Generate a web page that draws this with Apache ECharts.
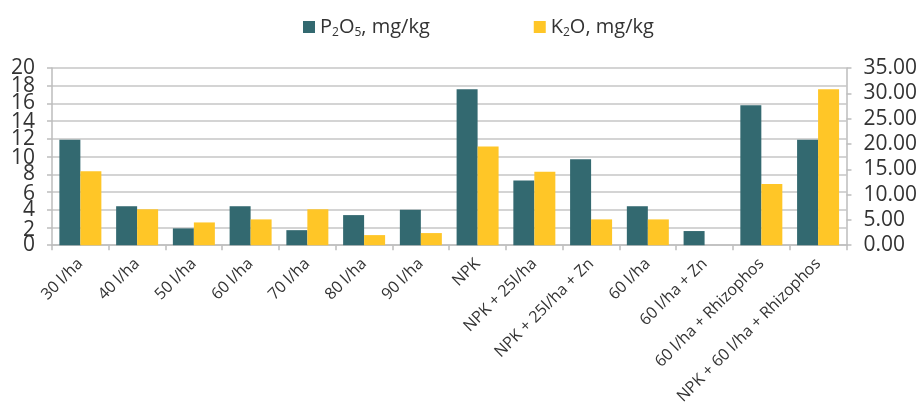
<!DOCTYPE html>
<html><head><meta charset="utf-8">
<script src="https://cdn.jsdelivr.net/npm/echarts@6/dist/echarts.min.js"></script>
<style>html,body{margin:0;padding:0;background:#fff}#c{width:920px;height:407px}</style>
</head><body><div id="c"></div>
<script>
const categories = ['30 l/ha','40 l/ha','50 l/ha','60 l/ha','70 l/ha','80 l/ha','90 l/ha','NPK','NPK + 25l/ha','NPK + 25l/ha + Zn','60 l/ha','60 l/ha + Zn','60 l/ha + Rhizophos','NPK + 60 l/ha + Rhizophos'];
const p2o5 = [11.9, 4.4, 1.9, 4.4, 1.7, 3.4, 4.0, 17.6, 7.3, 9.7, 4.4, 1.6, 15.8, 11.9];
const k2o = [14.6, 7.1, 4.5, 5.1, 7.1, 2.0, 2.4, 19.5, 14.5, 5.1, 5.1, 0, 12.1, 30.8];
const leftTicks = {min: 0, max: 20, interval: 2};
const rightTicks = {min: 0, max: 35, interval: 5};

const FONT = '"Open Sans", "Noto Sans", sans-serif';
const TXT = '#333333';
const GRID = {left: 52, right: 72, top: 68, bottom: 159};
const plotH = 407 - GRID.top - GRID.bottom;
const pxPerStep = plotH / ((leftTicks.max - leftTicks.min) / leftTicks.interval);
const chart = echarts.init(document.getElementById('c'));
const rich = {
  a: {fontSize: 20, fontFamily: FONT, color: TXT, lineHeight: 24},
  s: {fontSize: 12, fontFamily: FONT, color: TXT, padding: [12, 0, 0, 0], lineHeight: 24}
};
const labelStyle = {fontSize: 21, color: TXT, fontFamily: FONT, margin: 17};
chart.setOption({
  animation: false,
  textStyle: {fontFamily: FONT},
  legend: {
    top: 10, left: 298, itemWidth: 12, itemHeight: 12, itemGap: 104, icon: 'rect',
    data: ['P2O5', 'K2O'],
    formatter: function (n) {
      return n === 'P2O5' ? '{a|P}{s|2}{a|O}{s|5}{a|, mg/kg}' : '{a|K}{s|2}{a|O, mg/kg}';
    },
    textStyle: {rich: rich}
  },
  grid: [GRID, {left: GRID.left, right: GRID.right, top: GRID.top - pxPerStep, bottom: GRID.bottom - pxPerStep}],
  xAxis: [{
    type: 'category', data: categories, gridIndex: 0,
    axisLine: {lineStyle: {color: '#bdbdbd', width: 1.5}},
    axisTick: {show: true, length: 5, lineStyle: {color: '#bdbdbd', width: 1.5}},
    axisLabel: {rotate: 45, interval: 0, fontSize: 16, color: TXT, fontFamily: FONT, margin: 16, hideOverlap: false}
  }, {
    type: 'category', data: categories, gridIndex: 1, show: false
  }],
  yAxis: [{
    type: 'value', gridIndex: 0, min: leftTicks.min, max: leftTicks.max, interval: leftTicks.interval,
    axisLine: {show: true, lineStyle: {color: '#bdbdbd', width: 1.5}},
    axisTick: {show: true, length: 5, lineStyle: {color: '#bdbdbd', width: 1.5}},
    splitLine: {lineStyle: {color: '#c6c6c6', width: 1.5}},
    axisLabel: {show: false}
  }, {
    type: 'value', gridIndex: 0, min: rightTicks.min, max: rightTicks.max, interval: rightTicks.interval,
    axisLine: {show: true, lineStyle: {color: '#bdbdbd', width: 1.5}},
    axisTick: {show: true, length: 5, lineStyle: {color: '#bdbdbd', width: 1.5}},
    splitLine: {show: false},
    axisLabel: Object.assign({showMinLabel: true, showMaxLabel: true, formatter: v => v.toFixed(2)}, labelStyle)
  }, {
    // labels 0, 4, 8, ... 20
    type: 'value', gridIndex: 0, position: 'left', min: leftTicks.min, max: leftTicks.max, interval: leftTicks.interval * 2,
    axisLine: {show: false}, axisTick: {show: false}, splitLine: {show: false},
    axisLabel: Object.assign({showMinLabel: true, showMaxLabel: true}, labelStyle)
  }, {
    // labels 2, 6, 10, ... 18
    type: 'value', gridIndex: 1, position: 'left',
    min: leftTicks.min - leftTicks.interval, max: leftTicks.max + leftTicks.interval, interval: leftTicks.interval * 2,
    axisLine: {show: false}, axisTick: {show: false}, splitLine: {show: false},
    axisLabel: Object.assign({showMinLabel: true, showMaxLabel: true,
      formatter: v => (v < leftTicks.min || v > leftTicks.max) ? '' : String(v)}, labelStyle)
  }],
  series: [{
    name: 'P2O5', type: 'bar', xAxisIndex: 0, yAxisIndex: 0, data: p2o5,
    itemStyle: {color: '#336970'}, barGap: '0%', barCategoryGap: '26%'
  }, {
    name: 'K2O', type: 'bar', xAxisIndex: 0, yAxisIndex: 1, data: k2o,
    itemStyle: {color: '#FFC627'}, barGap: '0%', barCategoryGap: '26%'
  }]
});
</script></body></html>
